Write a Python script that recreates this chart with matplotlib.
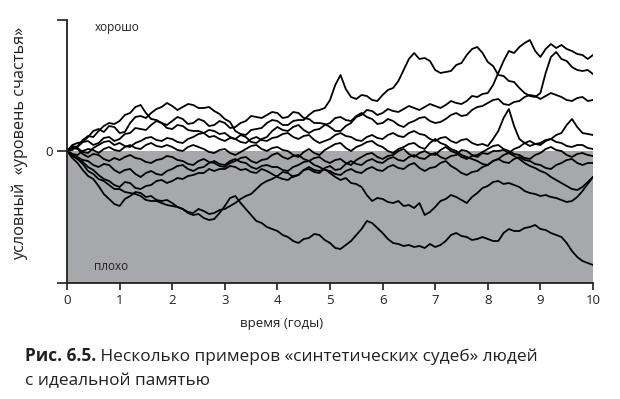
import matplotlib
matplotlib.use("Agg")
import matplotlib.pyplot as plt

plt.rcParams['font.family'] = ['Open Sans', 'DejaVu Sans']

# time grid (years) and ten "synthetic fates" (arbitrary happiness units, 0 = neutral)
years = [round(0.1 * i, 1) for i in range(101)]

fate_p = [0, 6, 8, 9, 14, 20, 22, 19, 25, 24,
          18, 19, 28, 34, 35, 33, 38, 42, 44, 48,
          45, 41, 44, 47, 46, 43, 43, 44, 40, 37,
          32, 29, 20, 17, 16, 21, 22, 23, 28, 31,
          30, 26, 26, 30, 31, 31, 36, 40, 41, 43,
          51, 66, 76, 62, 54, 52, 56, 55, 51, 50,
          56, 61, 63, 70, 81, 92, 98, 92, 93, 90,
          81, 78, 79, 80, 86, 88, 96, 102, 104, 98,
          89, 85, 76, 75, 70, 69, 63, 58, 55, 54,
          58, 78, 94, 99, 92, 90, 84, 81, 80, 81,
          77]
fate_a = [0, 5, 4, 9, 10, 6, 8, 13, 14, 10,
          12, 17, 18, 23, 22, 21, 26, 30, 28, 26,
          30, 34, 32, 27, 28, 32, 30, 25, 26, 30,
          28, 23, 24, 28, 30, 35, 34, 33, 36, 39,
          38, 33, 34, 39, 38, 33, 32, 28, 28, 27,
          24, 20, 20, 25, 28, 34, 36, 41, 40, 36,
          38, 42, 40, 39, 42, 45, 43, 41, 44, 47,
          45, 43, 46, 50, 48, 47, 50, 55, 54, 57,
          58, 66, 78, 90, 100, 98, 104, 108, 111, 100,
          94, 102, 107, 103, 106, 102, 100, 97, 96, 92,
          96]
fate_c = [0, 1, 5, 11, 15, 14, 20, 25, 28, 27,
          30, 36, 38, 44, 46, 38, 32, 31, 28, 23,
          22, 26, 25, 21, 20, 20, 18, 14, 15, 12,
          10, 13, 12, 16, 14, 9, 8, 12, 14, 20,
          24, 21, 20, 24, 26, 21, 18, 21, 22, 26,
          28, 33, 34, 31, 30, 35, 38, 34, 32, 27,
          28, 32, 30, 26, 24, 28, 30, 33, 34, 30,
          28, 29, 32, 36, 38, 35, 36, 41, 44, 45,
          48, 51, 52, 47, 46, 49, 50, 54, 56, 55,
          52, 55, 58, 56, 54, 51, 50, 53, 54, 50,
          51]
fate_d = [0, 4, 3, -1, -2, 3, 6, 9, 10, 6,
          8, 5, 4, 8, 10, 13, 14, 11, 10, 13,
          12, 9, 8, 12, 14, 17, 18, 21, 20, 17,
          18, 14, 12, 9, 8, 12, 14, 11, 10, 13,
          14, 17, 18, 14, 12, 15, 16, 11, 8, 10,
          12, 16, 18, 15, 14, 11, 10, 14, 16, 13,
          12, 16, 18, 15, 14, 18, 20, 17, 16, 12,
          10, 13, 14, 10, 8, 11, 12, 8, 6, 7,
          5, 12, 20, 33, 42, 25, 12, 8, 5, 7,
          8, 11, 12, 16, 18, 26, 32, 24, 18, 17,
          16]
fate_e = [0, -3, -4, 0, 2, 1, -2, 2, 4, 1,
          0, 4, 6, 3, 2, 6, 8, 5, 4, 6,
          4, 1, 0, 4, 6, 4, 2, -1, -2, 1,
          2, -2, -4, -1, 2, 5, 6, 2, 0, 3,
          4, 1, 0, -4, -6, -1, 2, -2, -4, 1,
          4, 7, 8, 3, 0, 4, 6, 9, 10, 6,
          4, 0, -2, 2, 4, 7, 8, 4, 2, 8,
          12, 8, 6, 2, 0, -4, -6, -8, -10, -13,
          -14, -10, -8, -4, -2, 2, 4, 8, 10, 7,
          6, 10, 12, 9, 8, 5, 4, 6, 6, 3,
          2]
fate_f = [0, 3, 2, -3, -6, -3, -4, -8, -10, -7,
          -9, -6, -4, -7, -8, -11, -12, -9, -8, -5,
          -6, -9, -10, -13, -14, -10, -8, -11, -12, -15,
          -16, -12, -10, -7, -6, -10, -12, -9, -8, -4,
          -2, -6, -8, -5, -4, -8, -10, -7, -6, -10,
          -12, -9, -8, -12, -14, -9, -6, -3, -2, -6,
          -8, -5, -4, 0, 2, -3, -6, -2, 0, -3,
          -4, 1, 4, 0, -2, -6, -8, -5, -4, -1,
          2, 5, 6, 2, 0, -3, -4, -7, -8, -4,
          -2, 2, 4, 1, 0, -4, -6, -3, -2, -4,
          -5]
fate_k = [0, -4, -6, -9, -10, -14, -16, -13, -14, -19,
          -22, -19, -18, -23, -26, -22, -20, -23, -24, -20,
          -18, -15, -14, -18, -20, -17, -16, -12, -10, -13,
          -14, -10, -8, -11, -12, -16, -18, -15, -14, -16,
          -16, -19, -20, -16, -14, -11, -10, -14, -16, -19,
          -20, -23, -24, -20, -18, -21, -22, -18, -16, -19,
          -20, -16, -14, -17, -18, -14, -12, -17, -20, -17,
          -16, -12, -10, -15, -18, -22, -24, -21, -20, -16,
          -14, -10, -8, -11, -12, -8, -6, -9, -10, -13,
          -14, -17, -18, -14, -12, -9, -8, -12, -14, -12,
          -12]
fate_g = [0, -7, -12, -19, -25, -28, -35, -43, -48, -53,
          -55, -48, -45, -41, -42, -46, -45, -49, -50, -49,
          -52, -56, -58, -61, -62, -58, -60, -63, -62, -59,
          -58, -55, -52, -48, -45, -43, -38, -33, -30, -28,
          -25, -21, -22, -26, -24, -19, -18, -21, -22, -17,
          -15, -19, -18, -13, -10, -13, -14, -10, -8, -11,
          -12, -8, -6, -9, -10, -6, -4, -7, -8, -4,
          -2, -6, -8, -5, -4, 1, 0, -4, -6, -2,
          -3, 0, 0, 1, -2, -5, -8, -12, -15, -17,
          -20, -22, -26, -29, -32, -35, -38, -39, -36, -31,
          -26]
fate_j = [0, -5, -8, -11, -16, -19, -24, -28, -30, -34,
          -36, -31, -32, -37, -38, -35, -34, -30, -29, -32,
          -30, -27, -28, -25, -24, -22, -22, -18, -20, -18,
          -18, -15, -16, -19, -18, -21, -22, -18, -20, -23,
          -26, -28, -29, -25, -24, -19, -16, -19, -20, -18,
          -22, -26, -29, -27, -32, -33, -36, -44, -50, -47,
          -48, -51, -52, -50, -55, -54, -57, -52, -64, -61,
          -56, -50, -48, -44, -46, -49, -52, -46, -42, -37,
          -35, -31, -30, -33, -32, -34, -36, -40, -42, -43,
          -45, -44, -46, -47, -49, -51, -50, -46, -40, -33,
          -26]
fate_i = [0, -3, -8, -13, -20, -23, -28, -30, -34, -38,
          -38, -41, -42, -43, -45, -49, -50, -50, -52, -54,
          -55, -56, -58, -62, -64, -63, -67, -69, -68, -62,
          -55, -47, -45, -52, -58, -64, -70, -72, -76, -78,
          -80, -84, -86, -90, -92, -88, -87, -83, -84, -89,
          -92, -97, -98, -94, -90, -84, -78, -70, -72, -77,
          -82, -88, -92, -93, -95, -94, -96, -95, -97, -93,
          -96, -94, -90, -84, -82, -85, -86, -89, -88, -86,
          -88, -90, -90, -82, -78, -80, -80, -77, -76, -74,
          -78, -79, -82, -84, -86, -92, -100, -106, -110, -112,
          -114]

fates = [fate_p, fate_a, fate_c, fate_d, fate_e, fate_f, fate_k, fate_g, fate_j, fate_i]

x_ticks = list(range(0, 11))
y_top, y_bottom = 131, -132

ink = '#231f20'
fig = plt.figure(figsize=(6.2, 3.99), dpi=100)
ax = fig.add_axes([67 / 620, 1 - 283 / 399, (593 - 67) / 620, (283 - 20) / 399])

ax.axhspan(y_bottom, 0, color='#a6a8ab', lw=0, zorder=0)
for f in fates:
    ax.plot(years, f, color='black', lw=1.3, zorder=2)

ax.set_xlim(0, 10)
ax.set_ylim(y_bottom, y_top)
for s in ['top', 'right']:
    ax.spines[s].set_visible(False)
for s in ['left', 'bottom']:
    ax.spines[s].set_linewidth(1.3)
    ax.spines[s].set_color(ink)

ax.set_xticks(x_ticks)
ax.set_xticklabels([str(v) for v in x_ticks], fontsize=9.5, color=ink)
ax.set_yticks([y_bottom, 0, y_top])
ax.set_yticklabels(['', '0', ''], fontsize=9.5, color=ink)
ax.tick_params(axis='both', direction='out', length=5, width=1.2, color=ink, pad=3)
ax.tick_params(axis='y', length=7)

ax.text(0.52, 123, 'хорошо', fontsize=8.5, color=ink, va='center', ha='left')
ax.text(0.52, -116, 'плохо', fontsize=8.5, color=ink, va='center', ha='left')

fig.text(282 / 620, 1 - 323 / 399, 'время (годы)', fontsize=9.5, color=ink,
         ha='center', va='center')
fig.text(20 / 620, 1 - 143 / 399, 'условный  «уровень счастья»', fontsize=11.7, color=ink,
         ha='center', va='center', rotation=90)

bold = fig.text(25 / 620, 1 - 356 / 399, 'Рис. 6.5.', fontsize=12.4, fontweight='bold',
                color=ink, ha='left', va='center')
ax.annotate(' Несколько примеров «синтетических судеб» людей', xy=(1, 0), xycoords=bold,
            fontsize=12.4, color=ink, ha='left', va='bottom', annotation_clip=False)
fig.text(25 / 620, 1 - 381 / 399, 'с идеальной памятью', fontsize=12.4, color=ink,
         ha='left', va='center')

fig.savefig('out.png', dpi=100)
